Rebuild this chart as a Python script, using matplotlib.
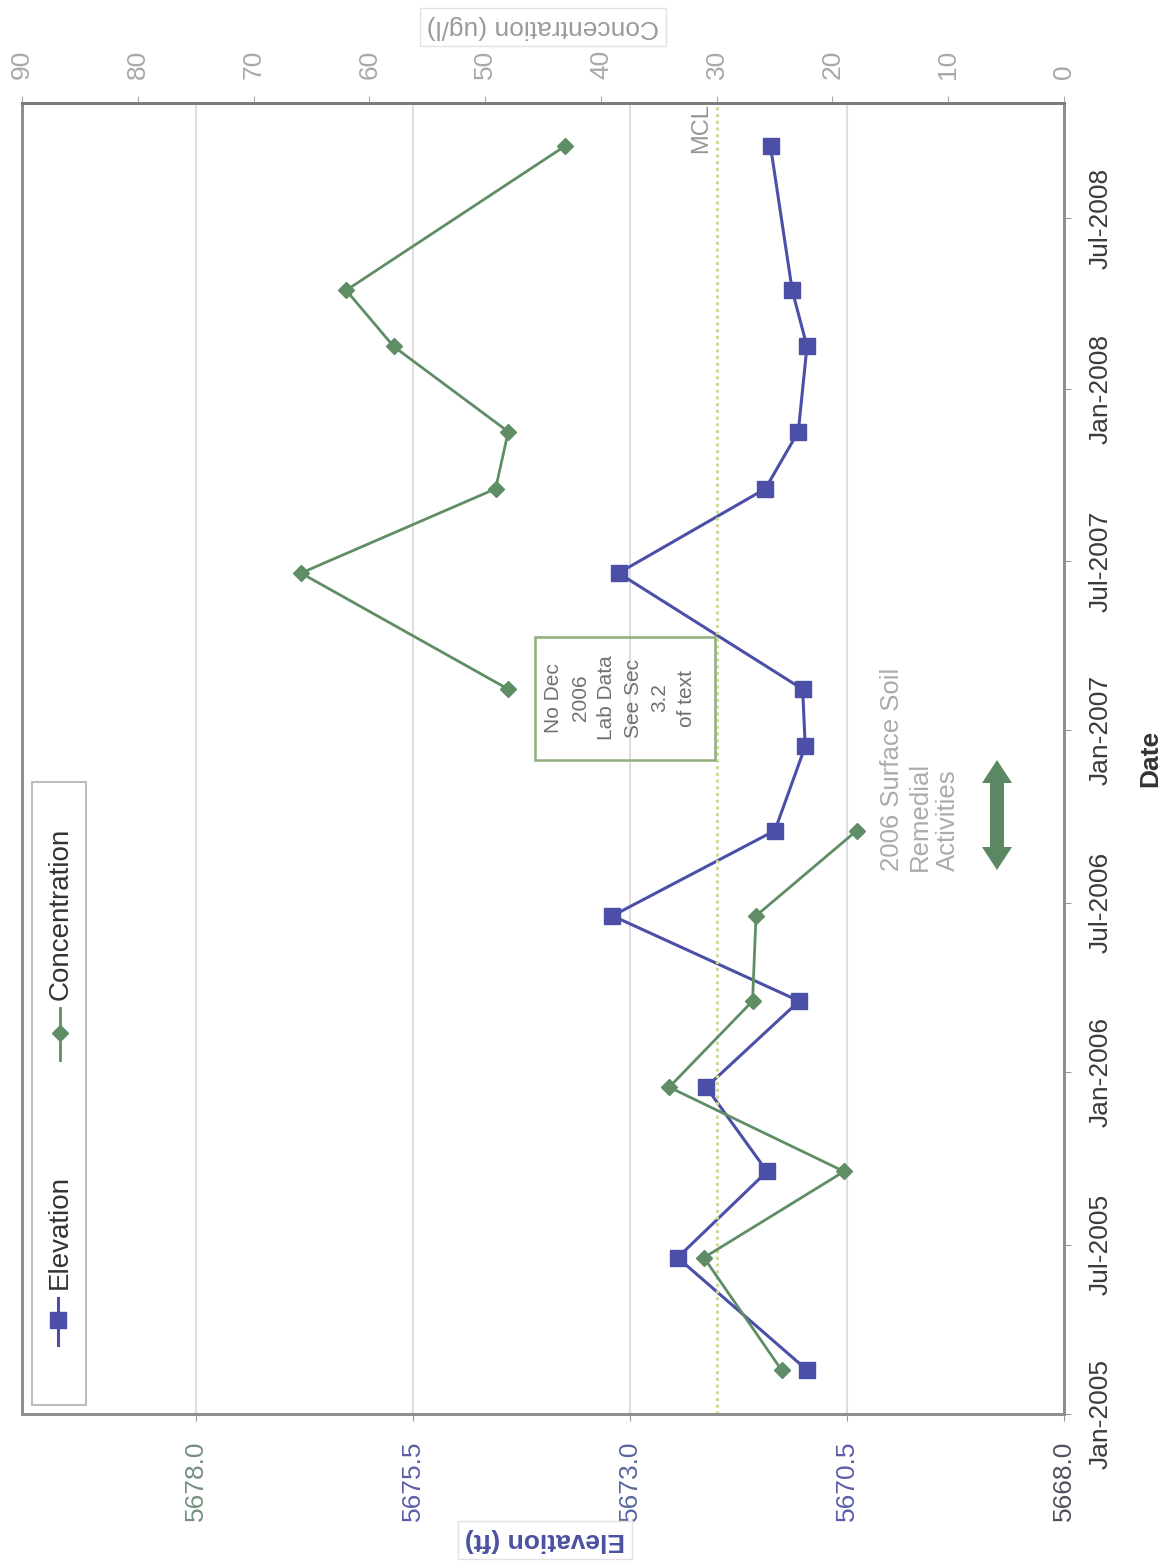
import matplotlib
matplotlib.use('Agg')
import matplotlib.pyplot as plt
import numpy as np
import pandas as pd
from matplotlib.patches import Rectangle, Polygon
from matplotlib.lines import Line2D

plt.rcParams['font.family'] = ['Liberation Sans', 'DejaVu Sans']

# quarterly sampling, water level and lab concentration
sample_dates = pd.to_datetime(['2005-02-17', '2005-06-17', '2005-09-17', '2005-12-16',
                               '2006-03-18', '2006-06-17', '2006-09-16', '2006-12-15',
                               '2007-02-14', '2007-06-18', '2007-09-16', '2007-11-16',
                               '2008-02-15', '2008-04-15', '2008-09-16'])
elevation = [5670.96, 5672.45, 5671.42, 5672.12, 5671.05, 5673.20, 5671.33, 5670.98,
             5671.01, 5673.13, 5671.44, 5671.06, 5670.96, 5671.13, 5671.38]
# no lab result for Dec 2006 -> gap in the line
concentration = [24.4, 31.1, 19.0, 34.1, 26.9, 26.6, 17.9, np.nan,
                 48.0, 65.9, 49.1, 48.0, 57.9, 62.0, 43.1]
mcl = 30

elev_ticks = [5668.0, 5670.5, 5673.0, 5675.5, 5678.0]
elev_tick_colors = ['#505060', '#5a5ea8', '#5a679c', '#5a5ea8', '#76907f']
conc_ticks = [0, 10, 20, 30, 40, 50, 60, 70, 80, 90]
date_ticks = pd.to_datetime(['2005-01-01', '2005-07-01', '2006-01-01', '2006-07-01',
                             '2007-01-01', '2007-07-01', '2008-01-01', '2008-07-01'])
date_labels = ['Jan-2005', 'Jul-2005', 'Jan-2006', 'Jul-2006',
               'Jan-2007', 'Jul-2007', 'Jan-2008', 'Jul-2008']

blue = '#4b4fa8'
green = '#5f8d66'
W, H = 1170, 1564


def fp(x, y):
    # pixel position -> figure fraction
    return x / W, 1 - y / H


fig = plt.figure(figsize=(W / 100, H / 100), dpi=100)
left, right, top, bottom = 22, 1064, 103, 1414
ax = fig.add_axes([left / W, 1 - bottom / H, (right - left) / W, (bottom - top) / H])

ax.plot(elevation, sample_dates, color=blue, lw=2.2, marker='s', ms=11.5,
        mfc=blue, mec=blue, zorder=3)
ax.set_xlim(5680, 5668)
ax.set_ylim(pd.Timestamp('2005-01-01'), pd.Timestamp('2008-11-01'))
ax.set_xticks(elev_ticks, [f'{t:.1f}' for t in elev_ticks], rotation=90, fontsize=19)
for lab, c in zip(ax.get_xticklabels(), elev_tick_colors):
    lab.set_color(c)
ax.yaxis.tick_right()
ax.set_yticks(date_ticks, date_labels, rotation=90, va='center', fontsize=19,
              color='#3a3a3a')
ax.tick_params(axis='x', length=5, pad=14, color='#999999')
ax.tick_params(axis='y', length=5, pad=13, color='#999999')
ax.grid(axis='x', color='#dedede', lw=1.5)
ax.set_axisbelow(True)

ax2 = ax.twiny()
ax2.plot(concentration, sample_dates, color=green, lw=2.0, marker='D', ms=8.5,
         mfc=green, mec=green, zorder=3)
ax2.axvline(mcl, color='#cfd89c', lw=2.2, ls=(0, (1, 1.2)), zorder=1)
ax2.set_xlim(90, 0)
ax2.set_xticks(conc_ticks, [str(c) for c in conc_ticks], rotation=90, fontsize=19,
               color='#a8a8a8')
ax2.tick_params(axis='x', length=5, pad=12, color='#aaaaaa')
ax2.text(mcl + 1.3, pd.Timestamp('2008-10-05'), 'MCL', rotation=90, fontsize=17,
         color='#959595', ha='center', va='center')

for a in (ax, ax2):
    for s in a.spines.values():
        s.set_color('#8e8e8e')
        s.set_linewidth(2)
ax2.spines['top'].set_color('#7a7a7a')

# axis titles
fig.text(*fp(1150, 758), 'Date', rotation=90, fontsize=19, fontweight='bold',
         color='#333333', ha='center', va='center')
fig.text(*fp(545, 1540), 'Elevation (ft)', rotation=180, fontsize=19,
         fontweight='bold', color='#4b50a0', ha='center', va='center',
         bbox=dict(boxstyle='square,pad=0.25', fc='white', ec='#e2e2e2', lw=1))
fig.text(*fp(543, 27), 'Concentration (ug/l)', rotation=180, fontsize=19,
         color='#9b9b9b', ha='center', va='center',
         bbox=dict(boxstyle='square,pad=0.25', fc='white', ec='#e2e2e2', lw=1))

# legend box drawn sideways
x0, y0 = fp(32, 1405)
x1, y1 = fp(86, 782)
fig.add_artist(Rectangle((x0, y0), x1 - x0, y1 - y0, transform=fig.transFigure,
                         fill=False, ec='#bdbdbd', lw=1.5))
fig.add_artist(Line2D([fp(58, 1298)[0]] * 2, [fp(58, 1298)[1], fp(58, 1345)[1]],
                      transform=fig.transFigure, color=blue, lw=2.2))
fig.add_artist(Line2D([fp(58, 1320)[0]], [fp(58, 1320)[1]], transform=fig.transFigure,
                      marker='s', ms=11, color=blue))
fig.text(*fp(60, 1289), 'Elevation', rotation=90, fontsize=20, color='#333333',
         ha='center', va='bottom')
fig.add_artist(Line2D([fp(60, 1008)[0]] * 2, [fp(60, 1008)[1], fp(60, 1060)[1]],
                      transform=fig.transFigure, color=green, lw=2.0))
fig.add_artist(Line2D([fp(60, 1033)[0]], [fp(60, 1033)[1]], transform=fig.transFigure,
                      marker='D', ms=8.5, color=green))
fig.text(*fp(61, 1000), 'Concentration', rotation=90, fontsize=20, color='#333333',
         ha='center', va='bottom')

# note box for the missing lab result
bx0, by0 = fp(535, 760)
bx1, by1 = fp(715, 637)
fig.add_artist(Rectangle((bx0, by0), bx1 - bx0, by1 - by0, transform=fig.transFigure,
                         fill=False, ec='#8fae78', lw=1.8))
fig.text(*fp(620, 698), 'No Dec\n2006\nLab Data\nSee Sec\n3.2\nof text', rotation=90,
         fontsize=15, color='#707070', ha='center', va='center',
         multialignment='center', linespacing=1.5)

# remedial activities note with double arrow
fig.text(*fp(920, 871), '2006 Surface Soil\nRemedial\nActivities', rotation=90,
         fontsize=18.5, color='#ababab', ha='center', va='bottom',
         multialignment='left', linespacing=1.2)
cx, ya, yb = 997, 760, 870
hw, bw, hl = 15, 7, 23
arrow_px = [(cx, ya), (cx + hw, ya + hl), (cx + bw, ya + hl), (cx + bw, yb - hl),
            (cx + hw, yb - hl), (cx, yb), (cx - hw, yb - hl), (cx - bw, yb - hl),
            (cx - bw, ya + hl), (cx - hw, ya + hl)]
fig.add_artist(Polygon([fp(x, y) for x, y in arrow_px], closed=True,
                       transform=fig.transFigure, fc='#5b8763', ec='none'))

fig.savefig('out.png', dpi=100)
